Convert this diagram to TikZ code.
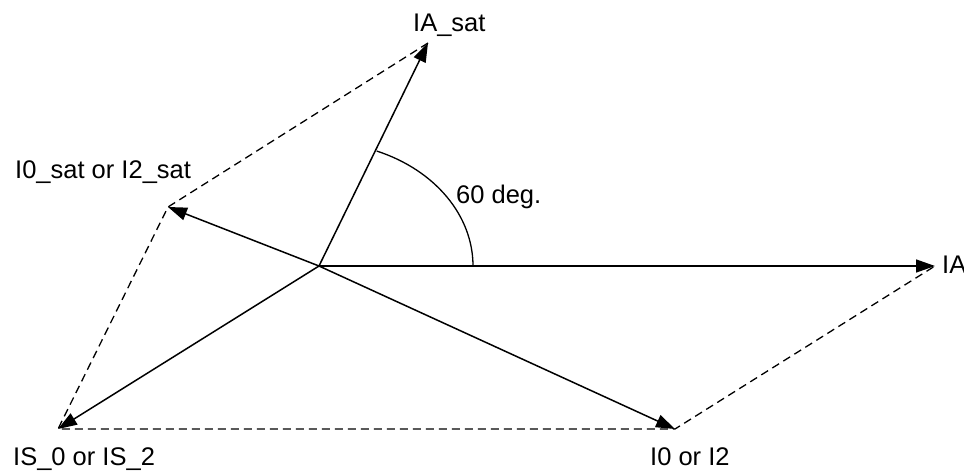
\documentclass[tikz,border=0pt]{standalone}
\usepackage{fontspec}
\setmainfont{Liberation Sans}
\usepackage{xcolor}
\usepackage{tikz}
\usetikzlibrary{arrows.meta,positioning,calc}

\tikzset{
    phasor/.style={line width=1.5pt, -{Triangle[length=19pt,width=13pt]}},
    sumline/.style={line width=1.3pt, dash pattern=on 8pt off 5pt},
    phlabel/.style={inner sep=0pt, anchor=base west, font=\fontsize{25.5}{30}\selectfont}
}

\begin{document}
\begin{tikzpicture}[x=1pt, y=-1pt]
        \useasboundingbox (0,0) rectangle (964,473);
        \coordinate (o)     at (319,266);
        \coordinate (ia)    at (935,266);
        \coordinate (iasat) at (428,43);
        \coordinate (i0sat) at (168,207);
        \coordinate (is0)   at (58,429);
        \coordinate (i0)    at (675,429);

        \node[phlabel] (iasatlbl) at (413,32)  {IA\_sat};
        \node[phlabel] (i0satlbl) at (15,179)  {I0\_sat or I2\_sat};
        \node[phlabel] (anglbl)   at (456,204) {60 deg.};
        \node[phlabel] (ialbl)    at (942,273) {IA};
        \node[phlabel] (is0lbl)   at (13,465)  {IS\_0 or IS\_2};
        \node[phlabel] (i0lbl)    at (650,465) {I0 or I2};

        \draw[sumline] (iasat) -- (i0sat) -- (is0) -- (i0) -- (ia);

        \draw[phasor] (o) -- (ia);
        \draw[phasor] (o) -- (iasat);
        \draw[phasor] (o) -- (i0sat);
        \draw[phasor] (o) -- (is0);
        \draw[phasor] (o) -- (i0);

        \draw[line width=1.3pt] (o) ++(154pt,0pt) arc[start angle=0, end angle=68, x radius=154pt, y radius=124pt];
    \end{tikzpicture}
\end{document}
